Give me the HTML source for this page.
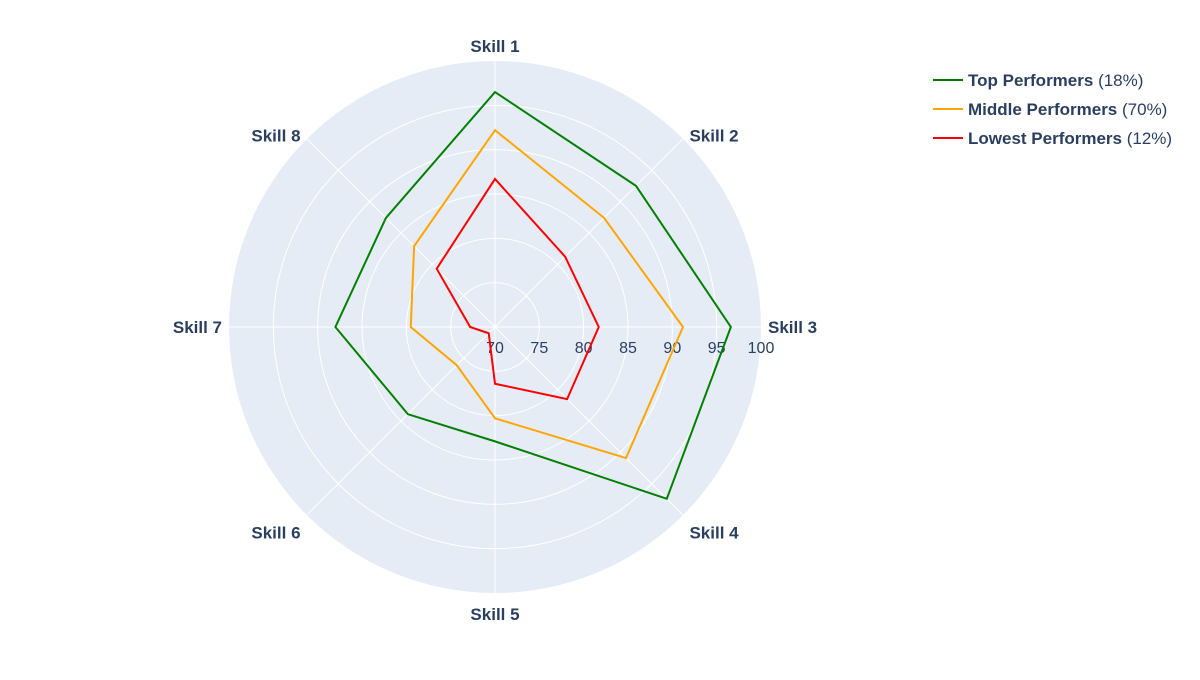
<!DOCTYPE html>
<html><head><meta charset="utf-8"><style>
body{margin:0;background:#fff;}
svg{font-family:"Liberation Sans",sans-serif;}
</style></head><body>
<svg id="chart" width="1200" height="675"></svg>
<script>
const skills=["Skill 1","Skill 2","Skill 3","Skill 4","Skill 5","Skill 6","Skill 7","Skill 8"];
const topVals=[96.5,92.5,96.6,97.4,82.9,83.9,88.0,87.4];
const midVals=[92.2,87.4,91.2,90.9,80.3,76.1,79.5,82.9];
const lowVals=[86.7,81.2,81.7,81.5,76.4,71.0,72.8,79.3];
const ticks=[70,75,80,85,90,95,100];
const seriesNames=["Top Performers","Middle Performers","Lowest Performers"];
const seriesPct=["(18%)","(70%)","(12%)"];
const seriesColors=["green","orange","red"];
const NS="http://www.w3.org/2000/svg";
const svg=document.getElementById("chart");
const cx=495,cy=327,R=266,rmin=70,rmax=100;
function rr(v){return (v-rmin)/(rmax-rmin)*R;}
function pt(i,v){const a=i*Math.PI/4;return [cx+rr(v)*Math.sin(a),cy-rr(v)*Math.cos(a)];}
function mk(t,at){const e=document.createElementNS(NS,t);for(const k in at)e.setAttribute(k,at[k]);svg.appendChild(e);return e;}
let bg=mk("circle",{cx:cx,cy:cy,r:R,fill:"#e5ecf6"});


ticks.slice(1,-1).forEach(t=>{const c=mk("circle",{cx:cx,cy:cy,r:rr(t),fill:"none",stroke:"#fff","stroke-width":1});

});
skills.forEach((s,i)=>{const p=pt(i,100);const l=mk("line",{x1:cx,y1:cy,x2:p[0],y2:p[1],stroke:"#fff","stroke-width":1});


const a=i*Math.PI/4;const sn=Math.sin(a),cs=Math.cos(a);
const rl=Math.abs(sn)<0.01?281:(Math.abs(cs)<0.01?273:275);
const lx=cx+rl*sn;let ly=cy-rl*cs;if(cs<-0.01)ly+=6;if(cs<-0.01&&Math.abs(sn)>0.01)ly+=5;if(cs>0.01&&Math.abs(sn)>0.01)ly+=3;
const anc=Math.abs(sn)<0.01?"middle":(sn>0?"start":"end");
const tx=mk("text",{x:lx,y:ly+6,"text-anchor":anc,"font-size":17,"font-weight":"bold",fill:"#2a3f5f"});tx.textContent=s;

});
ticks.forEach(t=>{const tx=mk("text",{x:cx+rr(t),y:cy+26,"text-anchor":"middle","font-size":16,fill:"#2a3f5f"});tx.textContent=t;

});
[topVals,midVals,lowVals].forEach((vals,k)=>{const pts=vals.map((v,i)=>pt(i,v).join(",")).join(" ");
const p=mk("polygon",{points:pts,fill:"none",stroke:seriesColors[k],"stroke-width":2,"stroke-linejoin":"miter"});


const y=80+k*29;
const l=mk("line",{x1:933,y1:y,x2:963,y2:y,stroke:seriesColors[k],"stroke-width":2});


const tx=mk("text",{x:968,y:y+6,"font-size":17,fill:"#2a3f5f"});
const b=document.createElementNS(NS,"tspan");b.setAttribute("font-weight","bold");b.textContent=seriesNames[k]+" ";tx.appendChild(b);
const n=document.createElementNS(NS,"tspan");n.textContent=seriesPct[k];tx.appendChild(n);

});
</script>
</body></html>
